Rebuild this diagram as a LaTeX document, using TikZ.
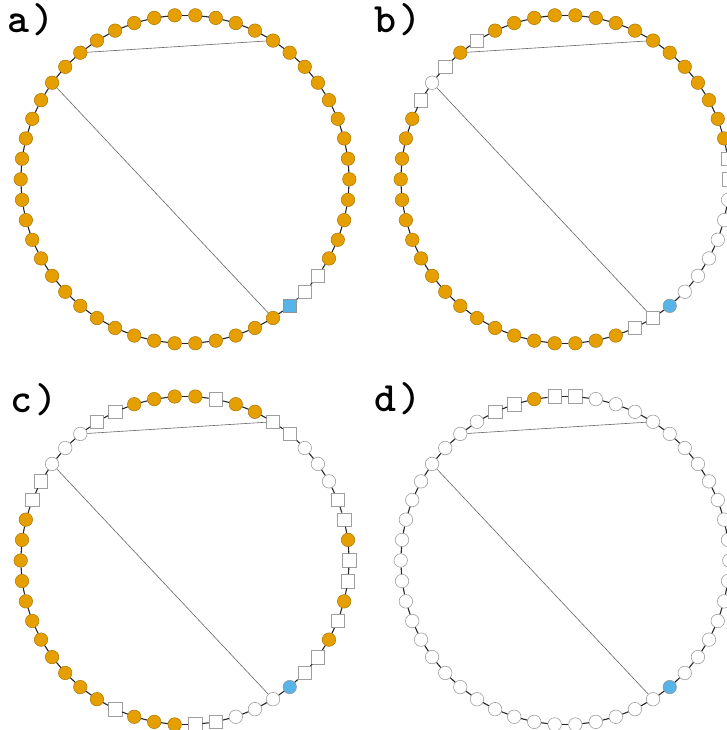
\documentclass[tikz,border=0pt]{standalone}
\usepackage{fontspec}
\usepackage{tikz}

\definecolor{ringorange}{HTML}{E69F00}
\definecolor{ringblue}{HTML}{56B4E9}
\definecolor{orangeline}{HTML}{A87500}

\tikzset{
  org/.style={circle, fill=ringorange, draw=orangeline, line width=0.5bp, minimum size=13.5bp, inner sep=0pt},
  wht/.style={circle, fill=white, draw=gray!75, line width=0.6bp, minimum size=13.5bp, inner sep=0pt},
  sqr/.style={rectangle, fill=white, draw=gray!75, line width=0.6bp, minimum size=13.5bp, inner sep=0pt},
  blu/.style={circle, fill=ringblue, draw=gray!85, line width=0.5bp, minimum size=13.5bp, inner sep=0pt},
  blusq/.style={rectangle, fill=ringblue, draw=gray!85, line width=0.5bp, minimum size=13.5bp, inner sep=0pt},
  ringedge/.style={draw=black!85, line width=1.1bp},
  chordedge/.style={draw=black!60, line width=0.6bp},
  panellabel/.style={font=\fontsize{42}{42}\selectfont\ttfamily\bfseries, inner sep=0pt, anchor=base west}
}

% one ring: #1 name, #2 #3 centre, #4 kinds of the 50 beads
\newcommand{\ringpanel}[4]{%
  \foreach \kind [count=\k from 0] in {#4}
    \node[\kind] (#1\k) at ([shift={(#2,#3)}]{86.4-7.2*\k}:164.3) {};
  \foreach \k [evaluate=\k as \j using {int(mod(\k+1,50))}] in {0,...,49}
    \draw[ringedge] (#1\k) -- (#1\j);
  \draw[chordedge] (#144) -- (#14);
  \draw[chordedge] (#142) -- (#120);
}

\begin{document}
\begin{tikzpicture}[x=1bp,y=1bp]
        \useasboundingbox (0,0) rectangle (727,730);

        % Panel labels
        \node[panellabel] (alabel) at (7,697) {a\kern3bp)};
        \node[panellabel] (blabel) at (374,697) {b\kern3bp)};
        \node[panellabel] (clabel) at (10,317) {c\kern3bp)};
        \node[panellabel] (dlabel) at (374,318) {d\kern3bp)};

        % a)
        \ringpanel{a}{185}{550.7}{org,org,org,org,org,org,org,org,org,org,
          org,org,org,org,org,org,org,sqr,sqr,blusq,
          org,org,org,org,org,org,org,org,org,org,
          org,org,org,org,org,org,org,org,org,org,
          org,org,org,org,org,org,org,org,org,org}

        % b)
        \ringpanel{b}{565}{550.7}{org,org,org,org,org,org,org,org,org,org,
          org,sqr,sqr,wht,wht,wht,wht,wht,wht,blu,
          sqr,sqr,org,org,org,org,org,org,org,org,
          org,org,org,org,org,org,org,org,org,org,
          org,sqr,wht,sqr,org,sqr,org,org,org,org}

        % c)
        \ringpanel{c}{185}{169.5}{org,sqr,org,org,sqr,sqr,wht,wht,wht,sqr,
          sqr,org,sqr,sqr,org,sqr,org,sqr,sqr,blu,
          wht,wht,wht,sqr,sqr,org,org,org,sqr,org,
          org,org,org,org,org,org,org,org,org,org,
          sqr,sqr,wht,wht,wht,sqr,sqr,org,org,org}

        % d)
        \ringpanel{d}{565}{169.5}{sqr,wht,wht,wht,wht,wht,wht,wht,wht,wht,
          wht,wht,wht,wht,wht,wht,wht,wht,wht,blu,
          wht,wht,wht,wht,wht,wht,wht,wht,wht,wht,
          wht,wht,wht,wht,wht,wht,wht,wht,wht,wht,
          wht,wht,wht,wht,wht,wht,sqr,sqr,org,sqr}
\end{tikzpicture}
\end{document}
